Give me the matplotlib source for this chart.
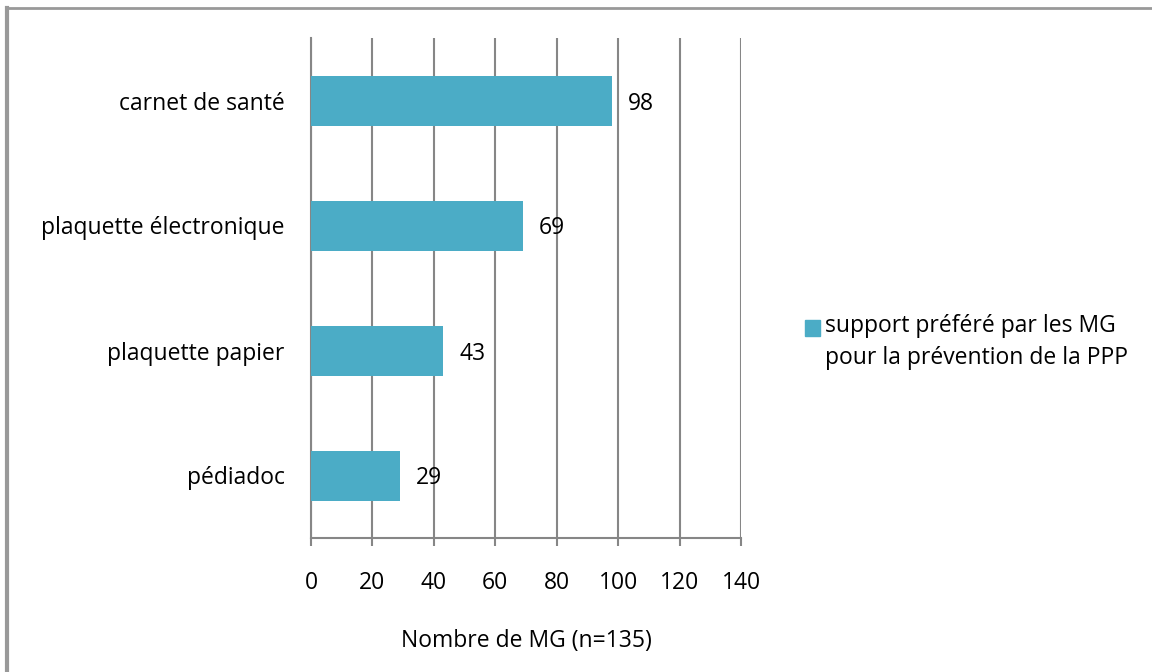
import matplotlib
matplotlib.use("Agg")
import matplotlib.pyplot as plt
from matplotlib.lines import Line2D
from matplotlib.patches import Rectangle

categories = ["carnet de santé", "plaquette électronique", "plaquette papier", "pédiadoc"]
values = [98, 69, 43, 29]
series_name = "support préféré par les MG\npour la prévention de la PPP"
xticks = [0, 20, 40, 60, 80, 100, 120, 140]
xlabel = "Nombre de MG (n=135)"

plt.rcParams['font.family'] = ['Open Sans', 'DejaVu Sans']
bar_color = "#4BACC6"
grid_color = "#868686"
fs = 16.5

fig = plt.figure(figsize=(11.52, 6.72), dpi=100)
ax = fig.add_axes([311/1152, 1-538/672, 430/1152, 500/672])

ypos = list(range(len(categories)))
ax.barh(ypos, values, height=0.4, color=bar_color, zorder=3)
ax.set_ylim(len(categories)-0.5, -0.5)
ax.set_xlim(0, 140)
ax.set_xticks(xticks)
ax.set_xticklabels([str(t) for t in xticks], fontsize=fs)
ax.set_yticks(ypos)
ax.set_yticklabels(categories, fontsize=fs)
ax.tick_params(axis='y', length=0, pad=19)
ax.tick_params(axis='x', length=6, width=1.5, color=grid_color, pad=18, direction='out')
ax.xaxis.grid(True, color=grid_color, linewidth=1.5, zorder=0)
for s in ['top', 'right']:
    ax.spines[s].set_visible(False)
for s in ['left', 'bottom']:
    ax.spines[s].set_color(grid_color)
    ax.spines[s].set_linewidth(1.5)
ax.set_xlabel(xlabel, fontsize=fs, labelpad=24)

for y, v in zip(ypos, values):
    ax.annotate(str(v), (v, y), xytext=(16, -3), textcoords='offset pixels',
                va='center', ha='left', fontsize=fs, zorder=4)

# legend drawn as a swatch aligned with the first text line (as in the source)
fig.add_artist(Rectangle((805/1152, 1-336/672), 15/1152, 16/672,
                         transform=fig.transFigure, color=bar_color))
fig.text(825/1152, 1-342/672, series_name, fontsize=fs, va='center', ha='left',
         linespacing=1.4)

fig.add_artist(Line2D([7/1152, 7/1152], [0, 1-8/672], transform=fig.transFigure, color="#999999", linewidth=3))
fig.add_artist(Line2D([7/1152, 1], [1-8/672, 1-8/672], transform=fig.transFigure, color="#999999", linewidth=2))

fig.savefig("out.png", dpi=100)
